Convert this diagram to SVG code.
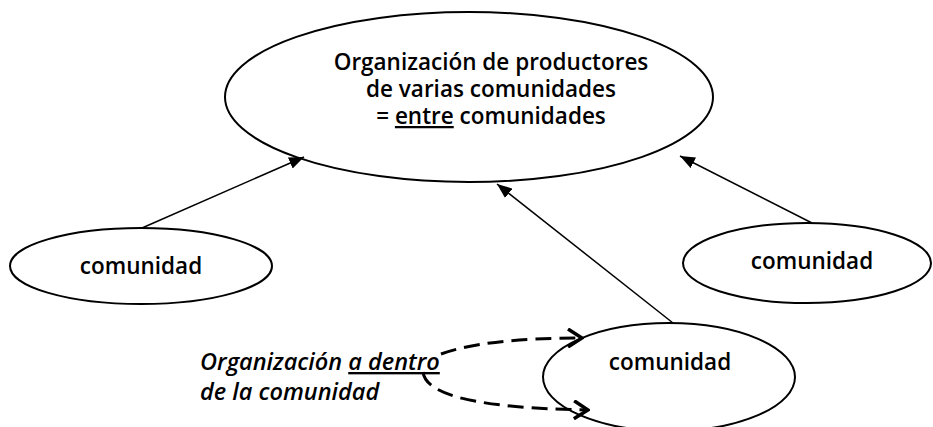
<svg xmlns="http://www.w3.org/2000/svg" width="933" height="427" viewBox="0 0 933 427">
<style>
.node{fill:#fff;stroke:#000;stroke-width:2}
.lbl{font-family:"Open Sans","Noto Sans",sans-serif;font-size:22.5px;font-weight:600;fill:#000;text-anchor:middle}
.it{font-family:"Open Sans","Noto Sans",sans-serif;font-size:23.5px;font-weight:600;font-style:italic;fill:#000}
.conn{fill:none;stroke:#000;stroke-width:1.5}
.dash{fill:none;stroke:#000;stroke-width:3;stroke-dasharray:16 8}
</style>
<defs>
<marker id="tri" viewBox="0 0 15 12" refX="15" refY="6" markerWidth="15" markerHeight="12" markerUnits="userSpaceOnUse" orient="auto">
<path d="M0,0 L15,6 L0,12 z" fill="#000"/>
</marker>
<marker id="chev" viewBox="0 0 18 20" refX="16" refY="10" markerWidth="18" markerHeight="20" markerUnits="userSpaceOnUse" orient="auto">
<path d="M2,1 L16,10 L2,19" fill="none" stroke="#000" stroke-width="3.5"/>
</marker>
</defs>
<g id="main">
<ellipse class="node" cx="469" cy="97" rx="244" ry="85"/>
<text class="lbl" x="491" y="70">Organización de productores</text>
<text class="lbl" x="491" y="97">de varias comunidades</text>
<text class="lbl" x="491" y="124">= <tspan text-decoration="underline">entre</tspan> comunidades</text>
</g>
<g id="com-left">
<ellipse class="node" cx="141" cy="266" rx="131" ry="38"/>
<text class="lbl" x="141" y="274">comunidad</text>
</g>
<g id="com-right">
<ellipse class="node" cx="807" cy="263" rx="124" ry="40"/>
<text class="lbl" x="812" y="269">comunidad</text>
</g>
<g id="com-bottom">
<ellipse class="node" cx="669" cy="377" rx="126" ry="54"/>
<text class="lbl" x="670" y="370">comunidad</text>
</g>
<g id="note">
<text class="it" x="200" y="370">Organización <tspan text-decoration="underline">a dentro</tspan></text>
<text class="it" x="200" y="400">de la comunidad</text>
</g>
<g id="connectors">
<line class="conn" x1="142" y1="228" x2="304" y2="157" marker-end="url(#tri)"/>
<line class="conn" x1="812" y1="223" x2="680" y2="156" marker-end="url(#tri)"/>
<line class="conn" x1="673" y1="323" x2="497" y2="184" marker-end="url(#tri)"/>
<path class="dash" d="M441,354 Q485,338 582,338" marker-end="url(#chev)"/>
<path class="dash" d="M423,372 C426,396 480,408 588,410" marker-end="url(#chev)"/>
</g>
</svg>
